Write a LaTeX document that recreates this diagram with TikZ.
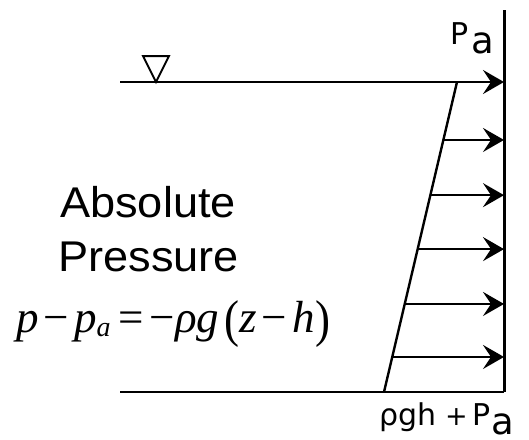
\documentclass[tikz,border=0pt]{standalone}
\usepackage{fontspec}
\usepackage{graphicx}
\setmainfont{Liberation Serif}
\newfontfamily\labfont{DejaVu Sans}
\newfontfamily\arialfont{Liberation Sans}
\usetikzlibrary{arrows.meta,calc}
\newcommand{\eqlp}{\raisebox{-4pt}{\scalebox{1}[1.15]{(}}}
\newcommand{\eqrp}{\raisebox{-4pt}{\scalebox{1}[1.15]{)}}}
\newcommand{\bigsub}[1]{\raisebox{-9pt}{\fontsize{37}{37}\selectfont #1}}
\begin{document}
\begin{tikzpicture}[x=1pt,y=-1pt,
  ln/.style={line width=2.4pt},
  wallline/.style={line width=3pt},
  arr/.style={-{Stealth[length=21pt,width=24pt,inset=8pt]}},
  tri/.style={line width=2pt, line join=miter},
  lab/.style={inner sep=0pt, font=\labfont\fontsize{30}{32}\selectfont},
  big/.style={inner sep=0pt, font=\arialfont\fontsize{43}{46}\selectfont},
  eqs/.style={inner sep=0pt, font=\fontsize{45}{48}\selectfont}
]
\useasboundingbox (0,0) rectangle (529,439);
% geometry
\coordinate (wt) at (504,10);
\coordinate (wb) at (504,392);
\coordinate (sl) at (120,82);
\coordinate (bl) at (120,392);
\coordinate (st) at (457,82);
\coordinate (sb) at (384,392);
\coordinate (t1) at (143,56);
\coordinate (t2) at (169,56);
\coordinate (t3) at (156,82);
% lines
\draw[ln] (bl) -- (wb);
\draw[ln] (st) -- (sb);
\draw[ln,arr] (sl) -- (wt |- sl);
\foreach \t/\n in {0.187/1,0.365/2,0.539/3,0.716/4,0.887/5}{
  \coordinate (a\n) at ($(st)!\t!(sb)$);
  \draw[ln,arr] (a\n) -- (a\n -| wt);
}
\draw[wallline] (wt) -- (wb);
\draw[tri] (t1) -- (t2) -- (t3) -- cycle;
% labels
\node[lab, anchor=base west] (pa) at (450,44) {\makebox[21pt][l]{P}\bigsub{a}};
\node[lab, anchor=base west] (pb) at (379,425) {\makebox[66pt][l]{ρgh}\makebox[27pt][l]{\scalebox{0.9}{+}}\makebox[19pt][l]{P}\bigsub{a}};
\node[big, anchor=base west] (abs) at (60,217) {\scalebox{1.05}[1]{Absolute}};
\node[big, anchor=base west] (pre) at (58,271) {\scalebox{1.05}[1]{Pressure}};
\node[eqs, anchor=base west] (eq) at (16,332) {\textit{p}\hspace{5pt}−\hspace{5pt}\textit{p}\raisebox{-4pt}{\fontsize{28}{28}\selectfont\textit{a}}\hspace{8pt}=\hspace{6pt}−\textit{ρg}\hspace{5pt}\eqlp\textit{z}\hspace{5pt}−\hspace{5pt}\textit{h}\hspace{1pt}\eqrp};
\end{tikzpicture}
\end{document}
